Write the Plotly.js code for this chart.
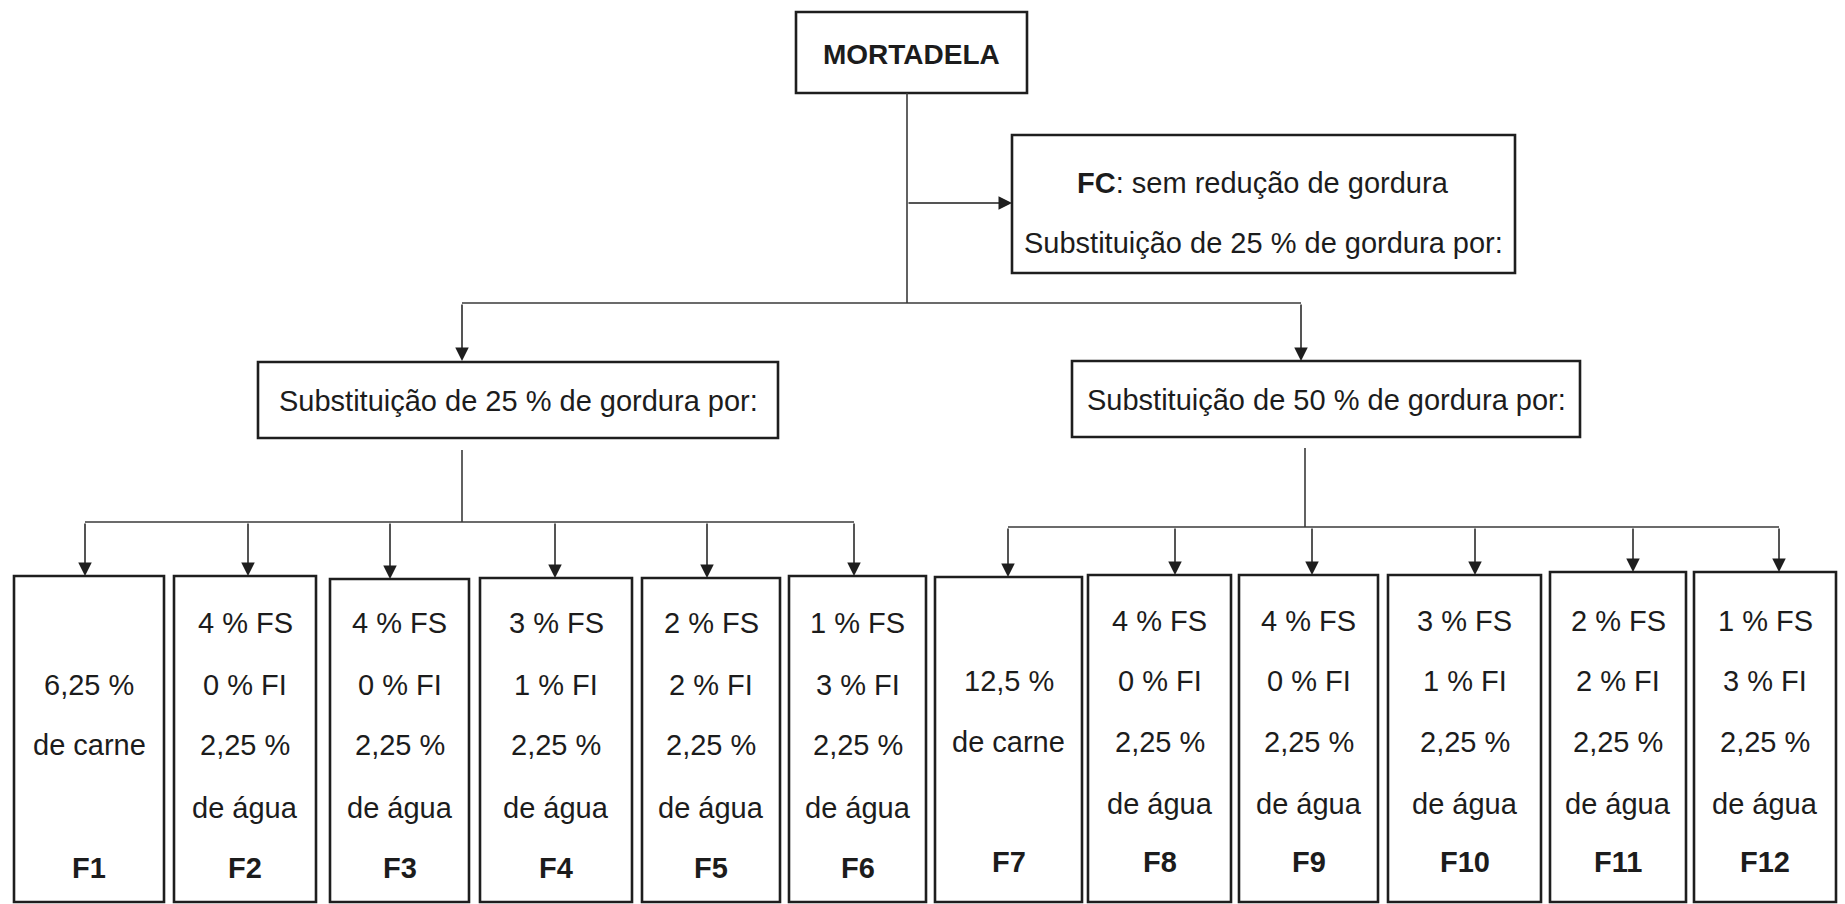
<!DOCTYPE html>
<html>
<head>
<meta charset="utf-8">
<script src="https://cdn.plot.ly/plotly-3.0.1.min.js"></script>
<style>html,body{margin:0;padding:0;background:#fff;}#chart{width:1845px;height:904px;}</style>
</head>
<body>
<div id="chart"></div>
<script>
// ---------- data ----------
const rootLabel = 'MORTADELA';
const controlLabel = 'FC';
const controlText = ': sem redução de gordura';
const controlSub = 'Substituição de 25 % de gordura por:';
const groupLabels = ['Substituição de 25 % de gordura por:', 'Substituição de 50 % de gordura por:'];
const formulations = ['F1','F2','F3','F4','F5','F6','F7','F8','F9','F10','F11','F12'];
const groupOf      = [0,0,0,0,0,0,1,1,1,1,1,1];
const meatPct  = ['6,25', null, null, null, null, null, '12,5', null, null, null, null, null];
const fsPct    = [null, 4, 4, 3, 2, 1, null, 4, 4, 3, 2, 1];
const fiPct    = [null, 0, 0, 1, 2, 3, null, 0, 0, 1, 2, 3];
const waterPct = [null, '2,25', '2,25', '2,25', '2,25', '2,25', null, '2,25', '2,25', '2,25', '2,25', '2,25'];

// ---------- layout geometry (pixels) ----------
const W = 1845, H = 904;
const FONT = 'Liberation Sans, Arial, sans-serif';
const TXT = '#1c1c1c', BOX = '#1e1e1e', LINE = '#3a3a3a';
const boxLeft  = [14, 174, 330, 480, 642, 789, 935, 1088, 1239, 1388, 1550, 1694];
const boxRight = [164, 316, 469, 632, 780, 926, 1082, 1231, 1378, 1541, 1686, 1836];
const boxTop   = [576, 576, 579, 578, 578, 576, 577, 575, 575, 575, 572, 572];
const boxBottom = 902;
const arrowX   = [85, 248, 390, 555, 707, 854, 1008, 1175, 1312, 1475, 1633, 1779];
const rowsY = [[623, 685, 745, 808, 868], [621, 681, 742, 804, 862]];

const shapes = [];
const annotations = [];
function rect(x0, y0, x1, y1) {
  shapes.push({type:'rect', xref:'x', yref:'y', x0, y0, x1, y1, line:{color:BOX, width:2.6}, fillcolor:'rgba(255,255,255,0)'});
}
function seg(x0, y0, x1, y1) {
  shapes.push({type:'line', xref:'x', yref:'y', x0, y0, x1, y1, line:{color:LINE, width:1.6}});
}
function arrow(x0, y0, x1, y1) {
  annotations.push({x:x1, y:y1, ax:x0, ay:y0, xref:'x', yref:'y', axref:'x', ayref:'y', text:'', showarrow:true,
    arrowhead:2, arrowsize:1.8, arrowwidth:1.5, arrowcolor:'#1e1e1e', standoff:0, startstandoff:0});
}
function label(x, y, text, size, bold) {
  annotations.push({x, y, xref:'x', yref:'y', text: bold ? '<b>' + text + '</b>' : text, showarrow:false,
    xanchor:'center', yanchor:'middle', font:{family:FONT, size:size, color:TXT}});
}

// root
rect(796, 12, 1027, 93);
label(911, 54, rootLabel, 28, true);
seg(907, 93, 907, 303);
// control branch
arrow(907, 203, 1012, 203);
rect(1012, 135, 1515, 273);
label(1263, 183, '<b>' + controlLabel + '</b>' + controlText, 29, false);
label(1263, 243, controlSub, 29, false);
// split
seg(462, 303, 1301, 303);
arrow(462, 303, 462, 361);
arrow(1301, 303, 1301, 361);
// group boxes
const gBox = [[258, 362, 778, 438], [1072, 361, 1580, 437]];
const gStem = [[462, 450, 522, 85, 854], [1305, 448, 527, 1008, 1779]];
groupLabels.forEach((t, g) => {
  const b = gBox[g];
  rect(b[0], b[1], b[2], b[3]);
  label((b[0] + b[2]) / 2, (b[1] + b[3]) / 2 + 1, t, 29, false);
  const s = gStem[g];
  seg(s[0], s[1], s[0], s[2]);
  seg(s[3], s[2], s[4], s[2]);
});
// formulation boxes
formulations.forEach((f, i) => {
  const g = groupOf[i];
  const ys = rowsY[g];
  const hy = gStem[g][2];
  arrow(arrowX[i], hy, arrowX[i], boxTop[i]);
  rect(boxLeft[i], boxTop[i], boxRight[i], boxBottom);
  const cx = (boxLeft[i] + boxRight[i]) / 2;
  if (meatPct[i] !== null) {
    label(cx, ys[1], meatPct[i] + ' %', 29, false);
    label(cx, ys[2], 'de carne', 29, false);
  } else {
    label(cx, ys[0], fsPct[i] + ' % FS', 29, false);
    label(cx, ys[1], fiPct[i] + ' % FI', 29, false);
    label(cx, ys[2], waterPct[i] + ' %', 29, false);
    label(cx, ys[3], 'de água', 29, false);
  }
  label(cx, ys[4], f, 29, true);
});

const layout = {
  width: W, height: H,
  margin: {l:0, r:0, t:0, b:0},
  paper_bgcolor: '#ffffff', plot_bgcolor: '#ffffff',
  xaxis: {range:[0, W], visible:false, fixedrange:true},
  yaxis: {range:[H, 0], visible:false, fixedrange:true},
  showlegend: false,
  shapes: shapes,
  annotations: annotations
};
Plotly.newPlot('chart', [], layout, {staticPlot:true, displayModeBar:false});
</script>
</body>
</html>
